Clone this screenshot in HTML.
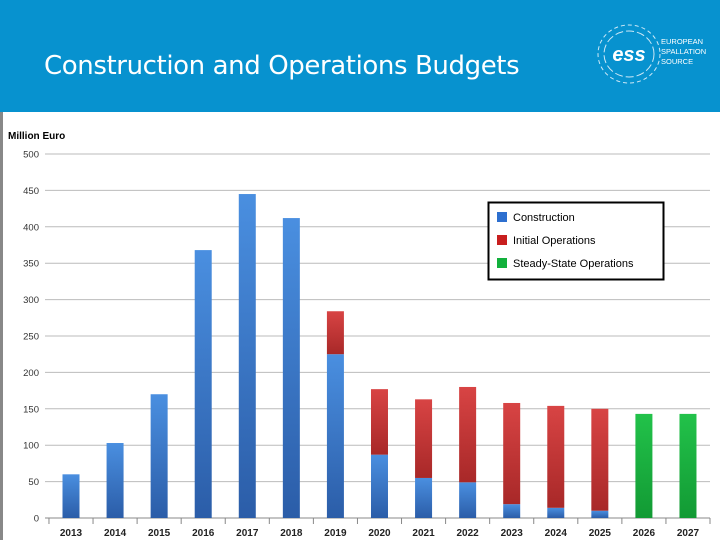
<!DOCTYPE html>
<html><head><meta charset="utf-8"><style>
body{margin:0;width:720px;height:540px;overflow:hidden;background:#fff;font-family:"Liberation Sans","DejaVu Sans",sans-serif}
#hdr{position:absolute;left:0;top:0;width:720px;height:112px;background:#0792cf}
#title{position:absolute;left:44px;top:51px;color:#fff;font-size:26px;font-family:"DejaVu Sans","Liberation Sans",sans-serif;letter-spacing:-0.4px}
#lborder{position:absolute;left:0;top:112px;width:3px;height:428px;background:#888}
</style></head><body>
<div id="hdr">
<div id="title">Construction and Operations Budgets</div>
<svg style="position:absolute;left:595px;top:20px" width="125" height="70">
<ellipse cx="34" cy="34" rx="31" ry="29" fill="none" stroke="#cfe9f7" stroke-width="1" stroke-dasharray="4 3"/>
<ellipse cx="34" cy="34" rx="25" ry="23" fill="none" stroke="#cfe9f7" stroke-width="1" stroke-dasharray="8 3"/>
<text x="34" y="41" text-anchor="middle" font-size="20" font-weight="bold" fill="#fff" font-family="Liberation Sans,sans-serif" font-style="italic">ess</text>
<text x="66" y="24" font-size="7.5" fill="#fff">EUROPEAN</text>
<text x="66" y="34" font-size="7.5" fill="#fff">SPALLATION</text>
<text x="66" y="44" font-size="7.5" fill="#fff">SOURCE</text>
</svg>
</div>
<div id="lborder"></div>
<svg id="chart" style="position:absolute;left:0;top:0" width="720" height="540">
<defs>
<linearGradient id="gb" x1="0" y1="0" x2="0" y2="1"><stop offset="0" stop-color="#4a8fe0"/><stop offset="1" stop-color="#2b5da8"/></linearGradient>
<linearGradient id="gr" x1="0" y1="0" x2="0" y2="1"><stop offset="0" stop-color="#d84444"/><stop offset="1" stop-color="#a82828"/></linearGradient>
<linearGradient id="gg" x1="0" y1="0" x2="0" y2="1"><stop offset="0" stop-color="#22c24a"/><stop offset="1" stop-color="#129a34"/></linearGradient>
</defs>
</svg>
<script>
const years=["2013","2014","2015","2016","2017","2018","2019","2020","2021","2022","2023","2024","2025","2026","2027"];
const construction=[60,103,170,368,445,412,225,87,55,49,19,14,10,0,0];
const initialOps=[0,0,0,0,0,0,59,90,108,131,139,140,140,0,0];
const steadyOps=[0,0,0,0,0,0,0,0,0,0,0,0,0,143,143];
const yTicks=[0,50,100,150,200,250,300,350,400,450,500];
const NS="http://www.w3.org/2000/svg";
const svg=document.getElementById('chart');
const y0=518,y500=154,xL=45,xR=710,x0=71,dx=44.07,bw=17;
const ys=v=>y0-(v/500)*(y0-y500);
const xs=i=>x0+i*dx;
function mk(t,a){const e=document.createElementNS(NS,t);for(const k in a)e.setAttribute(k,a[k]);svg.appendChild(e);return e;}
let t=mk('text',{x:8,y:139,'font-size':10,'font-weight':'bold',fill:'#000'});t.textContent='Million Euro';


yTicks.forEach(v=>{
 const g=mk('line',{x1:xL,x2:xR,y1:ys(v),y2:ys(v),stroke:v===0?'#888':'#bbb','stroke-width':1});
 
 
 const l=mk('text',{x:39,y:ys(v)+3.5,'font-size':9.5,'text-anchor':'end',fill:'#333'});l.textContent=v;
 
 
});
for(let i=0;i<=years.length;i++){
 const x=xs(i)-dx/2;
 const tk=mk('line',{x1:x,x2:x,y1:y0,y2:y0+6,stroke:'#888'});
 
 
}
years.forEach((yr,i)=>{
 const cx=xs(i);
 let base=0;
 [[construction,'url(#gb)','bar-construction'],[initialOps,'url(#gr)','bar-initial-operations'],[steadyOps,'url(#gg)','bar-steady-state']].forEach(([arr,f,n])=>{
  const v=arr[i];if(!v)return;
  const r=mk('rect',{x:cx-bw/2,y:ys(base+v),width:bw,height:ys(base)-ys(base+v),fill:f});
  
  
  base+=v;
 });
 const l=mk('text',{x:cx,y:536,'font-size':10,'font-weight':'bold','text-anchor':'middle',fill:'#222'});l.textContent=yr;
 
 
});
const lg=mk('rect',{x:488.5,y:202.5,width:175,height:77,fill:'#fff',stroke:'#000','stroke-width':2});


[['Construction','#2d6fcf'],['Initial Operations','#c81e1e'],['Steady-State Operations','#12b03c']].forEach(([n,c],k)=>{
 const y=217+k*23;
 const s=mk('rect',{x:497,y:y-5,width:10,height:10,fill:c});
 
 
 const tx=mk('text',{x:513,y:y+4,'font-size':11,fill:'#000'});tx.textContent=n;
 
 
});
</script>
</body></html>
